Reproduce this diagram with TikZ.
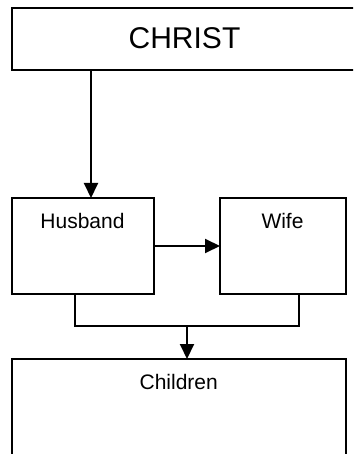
\documentclass[tikz,border=0pt]{standalone}
\usepackage{fontspec}
\setmainfont{Liberation Sans}
\usetikzlibrary{arrows.meta}
\begin{document}
\begin{tikzpicture}[x=1pt,y=-1pt,
  box/.style={draw=black, line width=2pt, rectangle, inner sep=0pt, outer sep=0pt, fill=white},
  conn/.style={draw=black, line width=2pt},
  arr/.style={conn, -{Triangle[length=15pt,width=14pt]}},
  big/.style={font=\fontsize{30}{36}\selectfont, anchor=base, inner sep=0pt},
  small/.style={font=\fontsize{21}{25}\selectfont, anchor=base, inner sep=0pt}]
\clip (0,0) rectangle (353,454);
\fill[white] (0,0) rectangle (353,454);
% boxes
\node[box, minimum width=353pt, minimum height=62pt] (christ) at (188.5,38.7) {};
\node[box, minimum width=142pt, minimum height=96pt] (husband) at (83,246) {};
\node[box, minimum width=126pt, minimum height=96pt] (wife) at (283,246) {};
\node[box, minimum width=334pt, minimum height=111pt] (children) at (179,414.5) {};
% texts
\node[big] (tchrist) at (184.5,48.3) {CHRIST};
\node[small] (thusband) at (82.5,228.3) {Husband};
\node[small] (twife) at (282.5,228.3) {Wife};
\node[small] (tchildren) at (178.7,389) {Children};
% connectors
\coordinate (cx) at (91,0);
\draw[arr] (christ.south -| cx) -- (husband.north -| cx);
\draw[arr] (husband.east) -- (wife.west);
\coordinate (hl) at (75,326);
\coordinate (wl) at (299,326);
\coordinate (jc) at (187,326);
\draw[conn] (husband.south -| hl) -- (hl) -- (wl) -- (wife.south -| wl);
\draw[arr] (jc) -- (children.north -| jc);
\end{tikzpicture}
\end{document}
